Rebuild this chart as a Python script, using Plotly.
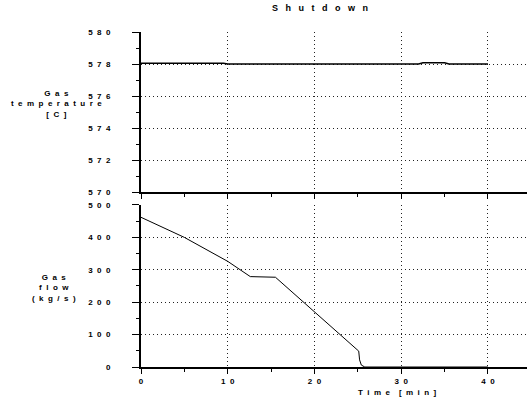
import plotly.graph_objects as go

# Shutdown transient: gas temperature and gas flow against time
temp_time = [0, 9.5, 10, 32, 32.5, 35, 35.5, 40]
temp_value = [578.05, 578.05, 578.0, 578.0, 578.08, 578.08, 578.0, 578.0]

flow_time = [0, 5, 10, 12.6, 15.5, 20, 25.1, 25.2, 25.4, 25.8, 40]
flow_value = [462, 400, 326, 279, 277, 170, 49, 22, 6, 0, 0]

temp_ticks = [570, 572, 574, 576, 578, 580]
flow_ticks = [0, 100, 200, 300, 400, 500]
time_ticks = [0, 10, 20, 30, 40]

NB = "\u00a0"


def bold(s, gap=2):
    """Bold text with wide letter spacing built from no-break spaces."""
    sep = NB * gap
    words = [sep.join(w) for w in s.split(" ")]
    return "<b>" + (sep * 2).join(words) + "</b>"


FAMILY = "Liberation Sans, Arial, sans-serif"
TICK_FONT = dict(family=FAMILY, size=8, color="black")
LABEL_FONT = dict(family=FAMILY, size=8, color="black")
TITLE_FONT = dict(family=FAMILY, size=9, color="black")

fig = go.Figure()
fig.add_trace(go.Scatter(x=temp_time, y=temp_value, mode="lines",
                         line=dict(color="black", width=1.6),
                         xaxis="x", yaxis="y", showlegend=False))
fig.add_trace(go.Scatter(x=flow_time, y=flow_value, mode="lines",
                         line=dict(color="black", width=1),
                         xaxis="x2", yaxis="y2", showlegend=False))

GRID_DASH = "1px,3px"

common_x = dict(range=[0, 44.5], tickvals=time_ticks, showgrid=True,
                gridcolor="#222", griddash=GRID_DASH, gridwidth=1,
                showline=True, linecolor="black", linewidth=2,
                ticks="outside", ticklen=5, tickcolor="black",
                minor=dict(dtick=5, tick0=0, ticklen=3, ticks="outside",
                           tickcolor="black", showgrid=False),
                zeroline=False)
common_y = dict(showgrid=True, gridcolor="#222", griddash=GRID_DASH, gridwidth=1,
                showline=True, linecolor="black", linewidth=2,
                ticks="outside", ticklen=7, tickcolor="black",
                zeroline=False, ticklabelstandoff=20, tickfont=TICK_FONT)

fig.update_layout(
    width=531, height=403,
    margin=dict(l=141, r=4, t=32, b=36),
    paper_bgcolor="white", plot_bgcolor="white",
    xaxis=dict(common_x, domain=[0, 1], anchor="y", showticklabels=False),
    xaxis2=dict(common_x, domain=[0, 1], anchor="y2",
                ticktext=[bold(str(v)) for v in time_ticks],
                tickfont=TICK_FONT),
    yaxis=dict(common_y, domain=[0.5224, 1], anchor="x", range=[570, 580],
               tickvals=temp_ticks,
               ticktext=[bold(str(v)) for v in temp_ticks],
               minor=dict(dtick=1, tick0=570, ticklen=3, ticks="outside",
                          tickcolor="black", showgrid=False)),
    yaxis2=dict(common_y, domain=[0, 0.4836], anchor="x2", range=[0, 500],
                tickvals=flow_ticks,
                ticktext=[bold(str(v)) for v in flow_ticks],
                minor=dict(dtick=50, tick0=0, ticklen=3, ticks="outside",
                           tickcolor="black", showgrid=False)),
)

annotations = [
    dict(text=bold("Shutdown", gap=3), x=320, y=8, font=TITLE_FONT),
    dict(text=bold("Gas") + "<br>" + bold("temperature") + "<br>" + bold("[C]"),
         x=56, y=104, font=LABEL_FONT),
    dict(text=bold("Gas") + "<br>" + bold("flow") + "<br>" + bold("(kg/s)"),
         x=54, y=288, font=LABEL_FONT),
    dict(text=bold("Time [min]"), x=397, y=392, font=LABEL_FONT),
]
for a in annotations:
    px, py = a.pop("x"), a.pop("y")
    fig.add_annotation(xref="paper", yref="paper",
                       x=(px - 141) / (531 - 141 - 4),
                       y=(403 - 36 - py) / (403 - 32 - 36),
                       showarrow=False, align="center",
                       xanchor="center", yanchor="middle", **a)

fig.write_html("out.html")
